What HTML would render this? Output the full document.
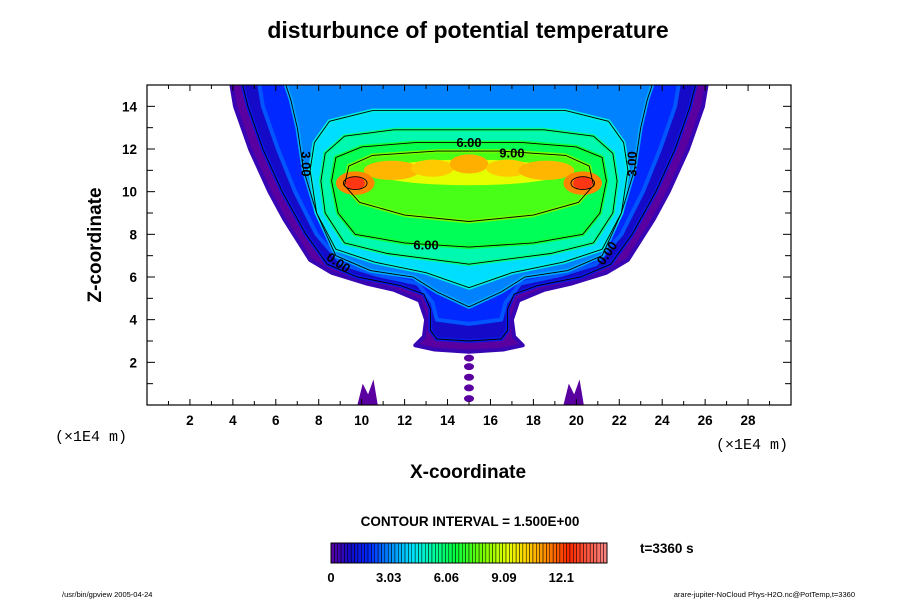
<!DOCTYPE html>
<html><head><meta charset="utf-8"><style>
body{margin:0;background:#fff;width:900px;height:600px;overflow:hidden;font-family:"Liberation Sans",sans-serif}
svg text{font-family:"Liberation Sans",sans-serif}
</style></head><body>
<svg id="chart" width="900" height="600" viewBox="0 0 900 600" xmlns="http://www.w3.org/2000/svg">
<defs>
<clipPath id="plotclip"><rect x="147" y="85" width="644" height="320"/></clipPath>
</defs>
<text x="468" y="38" text-anchor="middle" font-size="23" font-weight="bold">disturbunce of potential temperature</text>
<g id="field" clip-path="url(#plotclip)"></g>
<g id="lines" clip-path="url(#plotclip)"></g>
<rect x="147" y="85" width="644" height="320" fill="none" stroke="#000" stroke-width="1.2"/>
<g id="axes"></g>
<text transform="translate(101,245) rotate(-90)" text-anchor="middle" font-size="19" font-weight="bold">Z-coordinate</text>
<text x="468" y="478" text-anchor="middle" font-size="19" font-weight="bold">X-coordinate</text>
<text x="55" y="441" font-size="15" style="font-family:'Liberation Mono',monospace">(×1E4 m)</text>
<text x="716" y="449" font-size="15" style="font-family:'Liberation Mono',monospace">(×1E4 m)</text>
<text x="470" y="526" text-anchor="middle" font-size="13.5" font-weight="bold">CONTOUR INTERVAL = 1.500E+00</text>
<g id="cbar"></g>
<text x="640" y="553" font-size="13.5" font-weight="bold">t=3360 s</text>
<text x="62" y="597" font-size="7.5">/usr/bin/gpview 2005-04-24</text>
<text x="855" y="597" text-anchor="end" font-size="7.5">arare-jupiter-NoCloud Phys-H2O.nc@PotTemp,t=3360</text>
</svg>
<script>
// ---- data ----
const xTicks=[2,4,6,8,10,12,14,16,18,20,22,24,26,28];
const zTicks=[2,4,6,8,10,12,14];
const cbarLabels=["0","3.03","6.06","9.09","12.1"];
const cbarLabelValues=[0,3.03,6.06,9.09,12.1];
const levelValues=[0,1,2,3,4.2,5.2,6.2,7.4];
// symmetric profiles around x=15: [z, half-width]
const profile0=[[15.2,11.1],[14,10.9],[12,10.2],[10,9.3],[8.7,8.6],[6.8,7.4],[6.2,6.4],[5.7,4.8],[5.4,3.5],[4.9,2.3],[4,2.0],[3.2,2.1],[2.8,2.5],[2.6,1.6],[2.5,0]];
const profile1=[[15.2,10.6],[14,10.3],[12,9.6],[10,8.7],[8,7.6],[6.6,6.6],[6.0,5.2],[5.6,3.2],[5.2,2.1],[4.5,1.8],[3.5,1.8],[3.1,1.5],[3.0,0]];
const profile2=[[15.2,9.8],[14,9.6],[12,8.9],[10,8.1],[8,7.1],[6.6,5.9],[6.1,4.3],[5.7,2.4],[4.8,1.7],[4.0,1.5],[3.8,0]];
const profile3=[[15.2,8.6],[14.3,8.3],[13,8.0],[11,7.7],[9,7.1],[7,6.2],[6.3,4.6],[6.0,2.6],[5.3,1.5],[4.6,0]];
const profile4=[[13.8,4.5],[13.3,6.5],[12.3,7.2],[11,7.4],[9,7.1],[7.3,6.2],[6.7,4.4],[6.2,2.0],[5.5,0]];
const profile5=[[12.9,3.5],[12.6,5.8],[11.8,6.7],[10.5,6.9],[9,6.7],[7.6,5.8],[7.1,3.8],[6.6,0]];
const profile6=[[12.3,2.5],[12.1,5.0],[11.6,6.2],[10.5,6.4],[9,6.1],[8.0,5.3],[7.6,3.0],[7.4,0]];
const profile7=[[11.9,1.5],[11.7,4.5],[11.2,5.6],[10.3,5.8],[9.5,5.1],[8.9,3.0],[8.6,0]];
const profiles=[profile0,profile1,profile2,profile3,profile4,profile5,profile6,profile7];
// hot-spot ellipses
const spotX=[15.0,11.4,13.3,15.0,16.8,18.6,9.7,20.3,9.7,20.3];
const spotZ=[10.9,11.0,11.1,11.3,11.1,11.0,10.4,10.4,10.4,10.4];
const spotRX=[4.4,1.3,1.0,0.9,1.0,1.3,0.9,0.9,0.45,0.45];
const spotRZ=[0.6,0.45,0.4,0.45,0.4,0.45,0.55,0.55,0.3,0.3];
const spotV=[9.3,10.7,10.4,10.8,10.4,10.7,11.4,11.4,12.8,12.8];
// bottom features
const dotZ=[0.3,0.8,1.3,1.8,2.2];
const spikeX=[10.2,19.8];
// ---- axes ----
const X0=147,X1=791,Y0=405,Y1=85;
const sx=x=>X0+(x/30)*(X1-X0);
const sz=z=>Y0-(z/15)*(Y0-Y1);
const NS="http://www.w3.org/2000/svg";
function mk(tag,attrs,parent){const e=document.createElementNS(NS,tag);for(const k in attrs)e.setAttribute(k,attrs[k]);parent.appendChild(e);return e;}
function cmap(v){
  const st=[[0,[90,0,160]],[1,[20,10,200]],[2,[0,40,255]],[3,[0,130,255]],[4.3,[0,230,255]],[5.5,[0,255,150]],[6.5,[0,255,60]],[8,[120,255,0]],[9.3,[230,255,0]],[10.3,[255,210,0]],[11.3,[255,140,0]],[12.5,[255,40,0]],[14.6,[250,140,140]]];
  if(v<=st[0][0])return `rgb(${st[0][1].join(',')})`;
  for(let i=1;i<st.length;i++){if(v<=st[i][0]){const t=(v-st[i-1][0])/(st[i][0]-st[i-1][0]);const a=st[i-1][1],b=st[i][1];return `rgb(${a.map((c,j)=>Math.round(c+(b[j]-c)*t)).join(',')})`;}}
  return `rgb(${st[st.length-1][1].join(',')})`;
}
function profPath(p){
  let pts=p.map(([z,h])=>[sx(15-h),sz(z)]);
  let rpts=p.slice().reverse().map(([z,h])=>[sx(15+h),sz(z)]);
  const all=pts.concat(rpts);
  return 'M'+all.map(q=>q[0].toFixed(1)+','+q[1].toFixed(1)).join('L')+'Z';
}
const field=document.getElementById('field');
profiles.forEach((p,i)=>{
  const e=mk('path',{d:profPath(p),fill:cmap(levelValues[i]),stroke:cmap(levelValues[i]+0.5),'stroke-width':4,'stroke-linejoin':'round'},field);
  
  
});
spotX.forEach((x,i)=>{
  const e=mk('ellipse',{cx:sx(spotX[i]),cy:sz(spotZ[i]),rx:(sx(spotRX[i])-sx(0)),ry:(sz(0)-sz(spotRZ[i])),fill:cmap(spotV[i])},field);
  
  
});
dotZ.forEach(z=>{
  const e=mk('ellipse',{cx:sx(15),cy:sz(z),rx:5,ry:3.5,fill:cmap(0)},field);
  
  
});
spikeX.forEach(x=>{
  const e=mk('path',{d:`M${sx(x-0.4)},${sz(0)}L${sx(x-0.15)},${sz(1.0)}L${sx(x+0.1)},${sz(0.5)}L${sx(x+0.35)},${sz(1.2)}L${sx(x+0.55)},${sz(0)}Z`,fill:cmap(0)},field);
  
  
});
// contour lines
const lines=document.getElementById('lines');
[1,3,4,5,6,7].forEach(i=>{
  const e=mk('path',{d:profPath(profiles[i]),fill:'none',stroke:'#000','stroke-width':0.9},lines);
  
  
});
[[9.7,10.4],[20.3,10.4]].forEach(([x,z])=>{
  const e=mk('ellipse',{cx:sx(x),cy:sz(z),rx:sx(0.55)-sx(0),ry:sz(0)-sz(0.3),fill:'none',stroke:'#000','stroke-width':0.9},lines);
  
  
});
const labs=[["6.00",15,12.1,0],["9.00",17,11.6,0],["6.00",13,7.3,0],["3.00",7.2,11.3,90],["3.00",22.8,11.3,-90],["0.00",8.8,6.5,35],["0.00",21.6,7.0,-55]];
labs.forEach(([t,x,z,r])=>{
  const e=mk('text',{x:sx(x),y:sz(z),'text-anchor':'middle','font-size':13,'font-weight':'bold',transform:`rotate(${r},${sx(x)},${sz(z)})`},lines);
  e.textContent=t;
  
  
});
// axes
const axes=document.getElementById('axes');
for(let x=1;x<30;x++){
  const l=x%2===0?6:4;
  mk('line',{x1:sx(x),x2:sx(x),y1:Y0,y2:Y0-l,stroke:'#000'},axes);
  mk('line',{x1:sx(x),x2:sx(x),y1:Y1,y2:Y1+l,stroke:'#000'},axes);
}
for(let z=1;z<15;z++){
  const l=z%2===0?8:6;
  mk('line',{x1:X0,x2:X0+l,y1:sz(z),y2:sz(z),stroke:'#000'},axes);
  mk('line',{x1:X1,x2:X1-l,y1:sz(z),y2:sz(z),stroke:'#000'},axes);
}
xTicks.forEach(x=>{
  const e=mk('text',{x:sx(x),y:425,'text-anchor':'middle','font-size':13.5,'font-weight':'bold'},axes);
  e.textContent=x;
  
  
});
zTicks.forEach(z=>{
  const e=mk('text',{x:137,y:sz(z)+5,'text-anchor':'end','font-size':13.5,'font-weight':'bold'},axes);
  e.textContent=z;
  
  
});
// colorbar
const cb=document.getElementById('cbar');
const CB0=331,CB1=607,CBmax=14.5,N=82;
const cx=v=>CB0+(v/CBmax)*(CB1-CB0);
for(let i=0;i<N;i++){
  const v=(i+0.5)*CBmax/N;
  const x=CB0+i*(CB1-CB0)/N;
  mk('rect',{x:x,y:543,width:(CB1-CB0)/N,height:20,fill:cmap(v),stroke:'#000','stroke-width':0.5},cb);
}
mk('rect',{x:CB0,y:543,width:CB1-CB0,height:20,fill:'none',stroke:'#000','stroke-width':1},cb);
cbarLabels.forEach((t,i)=>{
  const e=mk('text',{x:cx(cbarLabelValues[i]),y:582,'text-anchor':'middle','font-size':13,'font-weight':'bold'},cb);
  e.textContent=t;
  
  
});
</script>
</body></html>
